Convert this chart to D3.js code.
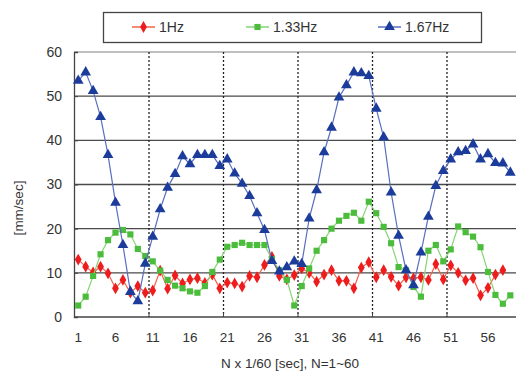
<!DOCTYPE html>
<html>
<head>
<meta charset="utf-8">
<script src="https://cdn.jsdelivr.net/npm/d3@7"></script>
<style>
  body { margin: 0; background: #fff; }
  svg { display: block; font-family: "Liberation Sans", Arial, sans-serif; }
</style>
</head>
<body>
<script>
// values, N = 1..60 (right end of the chart is cut off)
const hz1 = [13.0, 11.4, 10.1, 11.4, 9.9, 6.5, 8.4, 5.5, 7.0, 5.5,
  6.0, 10.5, 6.4, 9.4, 7.6, 8.5, 8.8, 7.7, 9.6, 6.5,
  7.8, 7.6, 6.9, 9.3, 9.0, 11.8, 13.6, 9.3, 8.5, 9.5,
  11.0, 10.0, 8.0, 9.6, 10.6, 8.2, 8.2, 6.5, 11.2, 12.4,
  9.0, 10.6, 9.1, 7.1, 9.0, 8.8, 9.0, 8.4, 12.0, 8.5,
  11.7, 10.0, 8.3, 8.8, 4.9, 6.6, 9.6, 10.6]
const hz133 = [2.6, 4.6, 9.3, 14.2, 17.4, 19.1, 19.7, 18.7, 15.4, 13.8,
  12.6, 10.5, 8.4, 7.1, 6.5, 5.8, 5.5, 7.0, 10.2, 13.0,
  15.9, 16.3, 16.8, 16.3, 16.3, 16.3, 13.1, 10.6, 8.4, 2.6,
  7.0, 11.0, 15.0, 17.4, 20.0, 21.8, 22.9, 23.6, 21.8, 26.1,
  23.5, 20.4, 16.7, 11.3, 10.6, 6.8, 4.6, 15.0, 16.3, 12.6,
  15.3, 20.5, 19.2, 18.2, 15.8, 10.2, 5.0, 3.0, 4.9]
const hz167 = [53.5, 55.4, 51.2, 45.3, 36.7, 25.9, 16.3, 5.7, 3.6, 12.1,
  18.2, 24.4, 29.3, 32.4, 36.4, 34.6, 36.7, 36.7, 36.7, 34.2,
  35.7, 32.5, 30.2, 27.4, 23.5, 19.7, 12.7, 10.3, 11.3, 12.6,
  12.0, 22.3, 28.7, 37.3, 42.9, 49.7, 52.5, 55.4, 55.2, 54.6,
  47.2, 40.7, 28.2, 18.4, 10.6, 7.2, 14.6, 22.7, 29.7, 33.1,
  35.7, 37.3, 37.6, 39.1, 35.7, 36.9, 34.9, 34.8, 32.7]

const nValues = d3.range(1, 61)
const xTickLabels = [1, 6, 11, 16, 21, 26, 31, 36, 41, 46, 51, 56]
const xGridAt = [11, 21, 31, 41, 51]
const yTicks = [0, 10, 20, 30, 40, 50, 60]

const series = [
  { name: '1Hz', values: hz1, line: '#f2604c', fill: '#ee1c1c', symbol: d3.symbolDiamond, size: 40 },
  { name: '1.33Hz', values: hz133, line: '#86d474', fill: '#4cbc3c', symbol: d3.symbolSquare, size: 38 },
  { name: '1.67Hz', values: hz167, line: '#5a6ec0', fill: '#1c3c9c', symbol: d3.symbolTriangle, size: 50 }
]

const W = 516, H = 372
const svg = d3.select('body').append('svg').attr('width', W).attr('height', H)

const x = d3.scaleBand().domain(nValues).range([74.5, 521.5])
const cx = n => x(n) + x.bandwidth() / 2
const y = d3.scaleLinear().domain([0, 60]).range([317, 52])

// horizontal grid
svg.append('g')
  .selectAll('line')
  .data(yTicks.filter(v => v > 0))
  .join('line')
  .attr('x1', 74).attr('x2', W)
  .attr('y1', d => y(d)).attr('y2', d => y(d))
  .attr('stroke', d => d === 60 ? '#aaa' : '#4a4a4a')
  .attr('stroke-width', 1.4)

// vertical dotted grid
svg.append('g')
  .selectAll('line')
  .data(xGridAt)
  .join('line')
  .attr('x1', d => x(d)).attr('x2', d => x(d))
  .attr('y1', y(60)).attr('y2', y(0))
  .attr('stroke', '#222')
  .attr('stroke-width', 1.3)
  .attr('stroke-dasharray', '2,2')

// axes
const yAxis = d3.axisLeft(y).tickValues(yTicks).tickSize(-4).tickPadding(12)
svg.append('g')
  .attr('transform', 'translate(74,0)')
  .call(yAxis)
  .call(g => g.select('.domain').attr('stroke', '#444').attr('stroke-width', 1.3))
  .call(g => g.selectAll('.tick line').attr('stroke', '#444'))
  .call(g => g.selectAll('text').attr('font-size', 14).attr('fill', '#333').attr('font-family', 'Liberation Sans, Arial, sans-serif'))

svg.append('line')
  .attr('x1', 74).attr('x2', W).attr('y1', y(0)).attr('y2', y(0))
  .attr('stroke', '#444').attr('stroke-width', 1.3)

svg.append('g')
  .selectAll('line')
  .data(xGridAt)
  .join('line')
  .attr('x1', d => x(d)).attr('x2', d => x(d))
  .attr('y1', y(0) - 4).attr('y2', y(0))
  .attr('stroke', '#444')

svg.append('g')
  .selectAll('text')
  .data(xTickLabels)
  .join('text')
  .attr('x', d => cx(d))
  .attr('y', 342)
  .attr('text-anchor', 'middle')
  .attr('font-size', 13.5)
  .attr('fill', '#333')
  .text(d => d)

svg.append('text')
  .attr('x', 290).attr('y', 368)
  .attr('text-anchor', 'middle')
  .attr('font-size', 13.5)
  .attr('fill', '#333')
  .text('N x 1/60 [sec], N=1~60')

svg.append('text')
  .attr('transform', 'translate(23,208) rotate(-90)')
  .attr('text-anchor', 'middle')
  .attr('font-size', 13.5)
  .attr('fill', '#333')
  .text('[mm/sec]')

// series
const line = d3.line()
  .x((d, i) => cx(i + 1))
  .y(d => y(d))

series.forEach(s => {
  const g = svg.append('g')
  g.append('path')
    .attr('d', line(s.values))
    .attr('fill', 'none')
    .attr('stroke', s.line)
    .attr('stroke-width', 1.2)
  g.selectAll('path.pt')
    .data(s.values)
    .join('path')
    .classed('pt', true)
    .attr('transform', (d, i) => `translate(${cx(i + 1)},${y(d)})`)
    .attr('d', d3.symbol().type(s.symbol).size(s.size))
    .attr('fill', s.fill)
})

// legend
const legend = svg.append('g')
legend.append('rect')
  .attr('x', 103.5).attr('y', 12.5)
  .attr('width', 378).attr('height', 30)
  .attr('fill', '#fff')
  .attr('stroke', '#444')
  .attr('stroke-width', 1.3)

const legendX = [132, 246, 378]
series.forEach((s, i) => {
  const lx = legendX[i]
  const item = legend.append('g').attr('transform', `translate(${lx},27)`)
  item.append('line').attr('x1', 0).attr('x2', 23).attr('stroke', s.line).attr('stroke-width', 1.5)
  item.append('path')
    .attr('transform', 'translate(11.5,0)')
    .attr('d', d3.symbol().type(s.symbol).size(s.size))
    .attr('fill', s.fill)
  item.append('text')
    .attr('x', 27).attr('y', 5)
    .attr('font-size', 14)
    .attr('fill', '#333')
    .text(s.name)
})
</script>
</body>
</html>
